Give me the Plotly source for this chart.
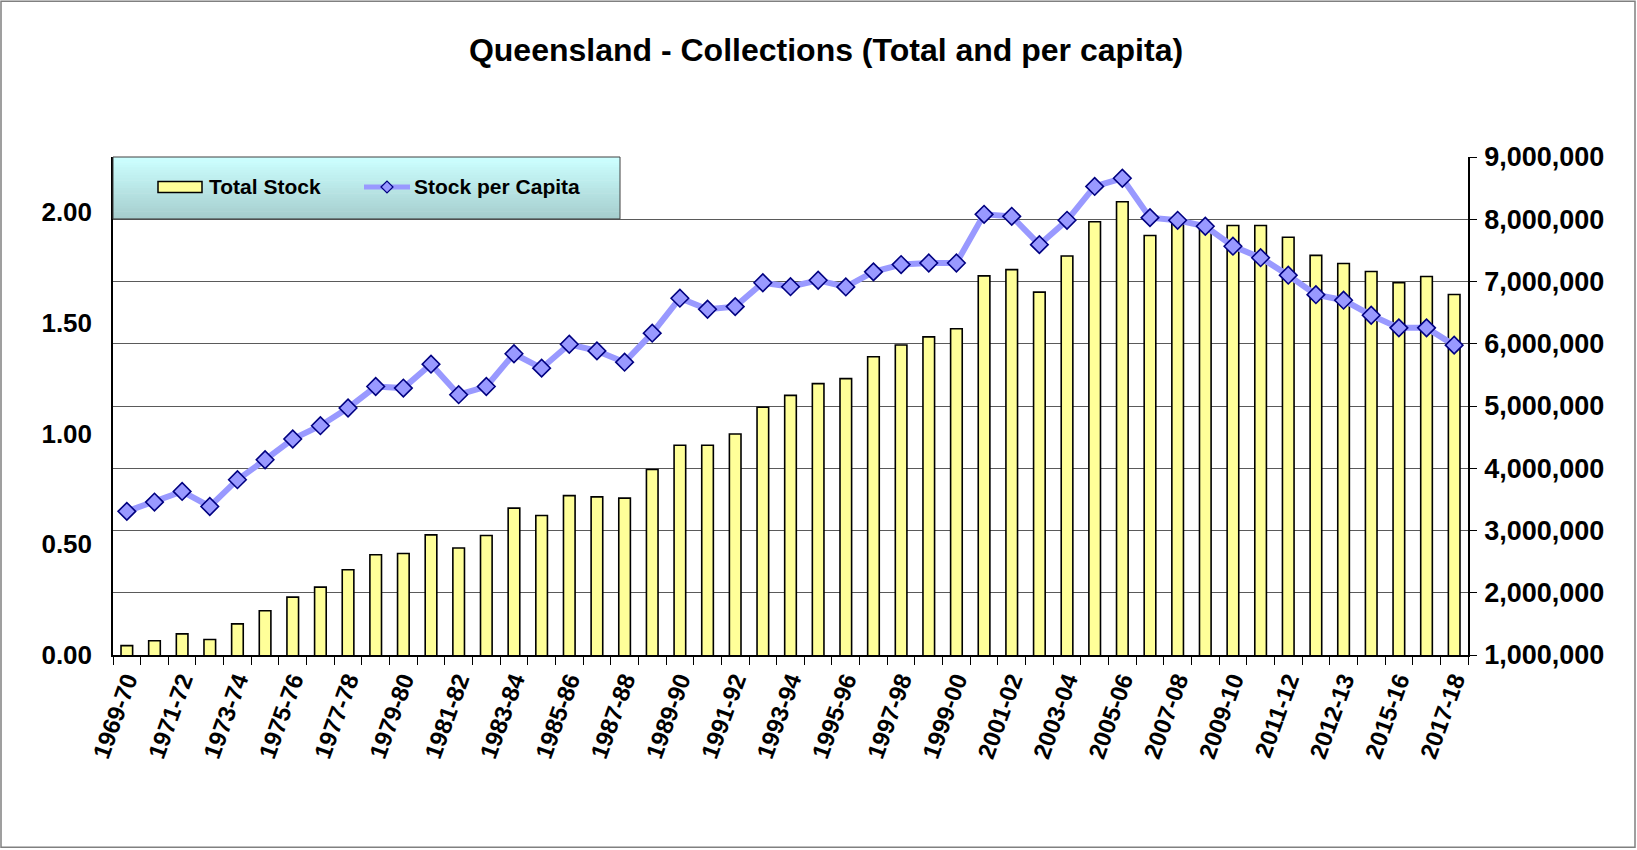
import plotly.graph_objects as go

# ---------------- data ----------------
categories = [
    "1969-70", "1970-71", "1971-72", "1972-73", "1973-74", "1974-75", "1975-76",
    "1976-77", "1977-78", "1978-79", "1979-80", "1980-81", "1981-82", "1982-83",
    "1983-84", "1984-85", "1985-86", "1986-87", "1987-88", "1988-89", "1989-90",
    "1990-91", "1991-92", "1992-93", "1993-94", "1994-95", "1995-96", "1996-97",
    "1997-98", "1998-99", "1999-00", "2000-01", "2001-02", "2002-03", "2003-04",
    "2004-05", "2005-06", "2006-07", "2007-08", "2008-09", "2009-10", "2010-11",
    "2011-12", "2012-13", "2013-14", "2014-15", "2015-16", "2016-17", "2017-18",
]

# axis labels as printed on the chart (every second category)
tick_labels = [
    "1969-70", "1971-72", "1973-74", "1975-76", "1977-78", "1979-80", "1981-82",
    "1983-84", "1985-86", "1987-88", "1989-90", "1991-92", "1993-94", "1995-96",
    "1997-98", "1999-00", "2001-02", "2003-04", "2005-06", "2007-08", "2009-10",
    "2011-12", "2012-13", "2015-16", "2017-18",
]

total_stock = [
    1150000, 1230000, 1340000, 1250000, 1500000, 1710000, 1930000, 2090000,
    2370000, 2610000, 2630000, 2930000, 2720000, 2920000, 3360000, 3240000,
    3560000, 3540000, 3520000, 3980000, 4370000, 4370000, 4550000, 4980000,
    5170000, 5360000, 5440000, 5790000, 5980000, 6110000, 6240000, 7090000,
    7190000, 6830000, 7410000, 7960000, 8280000, 7740000, 7950000, 7880000,
    7900000, 7900000, 7710000, 7420000, 7290000, 7160000, 6980000, 7080000,
    6790000,
]

stock_per_capita = [
    0.649, 0.691, 0.739, 0.671, 0.792, 0.882, 0.976, 1.036, 1.116, 1.213,
    1.206, 1.314, 1.176, 1.213, 1.361, 1.296, 1.404, 1.374, 1.323, 1.454,
    1.612, 1.562, 1.574, 1.682, 1.664, 1.693, 1.663, 1.731, 1.764, 1.771,
    1.771, 1.991, 1.982, 1.854, 1.964, 2.117, 2.154, 1.976, 1.964, 1.937,
    1.847, 1.795, 1.716, 1.628, 1.603, 1.535, 1.478, 1.478, 1.400,
]

# ---------------- layout geometry (pixels) ----------------
W, H = 1637, 850
PL, PR, PT, PB = 113, 1468, 157, 655.5  # plot area edges
FONT = "Arial, Liberation Sans, sans-serif"


def px(x):
    return (x - PL) / (PR - PL)


def py(y):
    return (PB - y) / (PB - PT)


xpos = list(range(len(categories)))

fig = go.Figure()

fig.add_trace(go.Bar(
    x=xpos, y=total_stock, name="Total Stock", yaxis="y",
    width=0.42,
    marker=dict(color="#FFFF99", line=dict(color="#000000", width=1.6)),
    customdata=categories, hovertemplate="%{customdata}: %{y:,}<extra></extra>",
    showlegend=False,
))

fig.add_trace(go.Scatter(
    x=xpos, y=stock_per_capita, name="Stock per Capita", yaxis="y2",
    mode="lines+markers",
    line=dict(color="#9999FF", width=6),
    marker=dict(symbol="diamond", size=13.5, color="#9999FF",
                line=dict(color="#000080", width=1.6)),
    customdata=categories, hovertemplate="%{customdata}: %{y:.2f}<extra></extra>",
    showlegend=False,
))

shapes = []
# legend box gradient
lx0, lx1, ly0, ly1 = 113, 620, 157, 219
n = 24
c_top = (204, 255, 255)
c_bot = (166, 206, 206)
for i in range(n):
    t = i / (n - 1)
    col = tuple(round(c_top[k] + (c_bot[k] - c_top[k]) * t) for k in range(3))
    ya = ly0 + (ly1 - ly0) * i / n
    yb = ly0 + (ly1 - ly0) * (i + 1) / n + 0.6
    shapes.append(dict(type="rect", xref="paper", yref="paper",
                       x0=px(lx0), x1=px(lx1), y0=py(ya), y1=py(min(yb, ly1)),
                       fillcolor="rgb(%d,%d,%d)" % col, line=dict(width=0),
                       layer="above"))
shapes.append(dict(type="rect", xref="paper", yref="paper",
                   x0=px(lx0), x1=px(lx1), y0=py(ly0), y1=py(ly1),
                   line=dict(color="#404040", width=1), layer="above"))
# legend symbols
cy = 187
shapes.append(dict(type="rect", xref="paper", yref="paper",
                   x0=px(158), x1=px(202), y0=py(cy - 5.5), y1=py(cy + 5.5),
                   fillcolor="#FFFF99", line=dict(color="#000000", width=1.5),
                   layer="above"))
shapes.append(dict(type="line", xref="paper", yref="paper",
                   x0=px(364), x1=px(410), y0=py(cy), y1=py(cy),
                   line=dict(color="#9999FF", width=5), layer="above"))
d = 6
shapes.append(dict(type="path", xref="paper", yref="paper",
                   path="M %f,%f L %f,%f L %f,%f L %f,%f Z" % (
                       px(387 - d), py(cy), px(387), py(cy - d),
                       px(387 + d), py(cy), px(387), py(cy + d)),
                   fillcolor="#9999FF", line=dict(color="#000080", width=1.2),
                   layer="above"))
# outer chart border
shapes.append(dict(type="rect", xref="paper", yref="paper",
                   x0=px(1), x1=px(W - 2), y0=py(1), y1=py(H - 2),
                   line=dict(color="#808080", width=1.5), layer="below"))

annotations = [
    dict(text="<b>Total Stock</b>", xref="paper", yref="paper",
         x=px(207), y=py(cy), xanchor="left", yanchor="middle",
         showarrow=False, font=dict(family=FONT, size=21, color="#000")),
    dict(text="<b>Stock per Capita</b>", xref="paper", yref="paper",
         x=px(412), y=py(cy), xanchor="left", yanchor="middle",
         showarrow=False, font=dict(family=FONT, size=21, color="#000")),
]

fig.update_layout(
    width=W, height=H,
    margin=dict(l=PL, r=W - PR, t=PT, b=H - PB, pad=0),
    paper_bgcolor="white", plot_bgcolor="white",
    font=dict(family=FONT, color="#000000"),
    title=dict(text="<b>Queensland - Collections (Total and per capita)</b>",
               x=826 / W, y=1 - 50 / H, xanchor="center", yanchor="middle",
               font=dict(family=FONT, size=32, color="#000")),
    bargap=0.5,
    xaxis=dict(
        range=[-0.5, len(categories) - 0.5],
        tickmode="array", tickvals=xpos[::2], ticktext=tick_labels,
        tickangle=-70, ticks="",
        tickfont=dict(family=FONT, size=24, color="#000", weight="bold"),
        showgrid=False, zeroline=False,
        showline=True, linecolor="#000", linewidth=1.5,
        minor=dict(tickmode="array",
                   tickvals=[i - 0.5 for i in range(len(categories) + 1)],
                   ticks="outside", ticklen=8, tickcolor="#000", tickwidth=1,
                   showgrid=False),
    ),
    yaxis=dict(
        side="right", range=[1000000, 9000000], dtick=1000000,
        tickformat=",d", ticks="outside", ticklen=7, tickcolor="#000",
        ticklabelstandoff=2,
        tickfont=dict(family=FONT, size=27, color="#000", weight="bold"),
        showgrid=True, gridcolor="#5a5a5a", gridwidth=1,
        zeroline=False, showline=True, linecolor="#000", linewidth=1.5,
    ),
    yaxis2=dict(
        overlaying="y", side="left", range=[0, 2.25], dtick=0.5,
        tickformat=".2f", ticks="", ticklabelstandoff=14,
        tickfont=dict(family=FONT, size=26, color="#000", weight="bold"),
        showgrid=False, zeroline=False,
        showline=True, linecolor="#000", linewidth=1.5,
    ),
    shapes=shapes,
    annotations=annotations,
    hovermode="closest",
)

fig.write_html("out.html", config={"displayModeBar": False},
               post_script="document.body.style.margin='0';")
